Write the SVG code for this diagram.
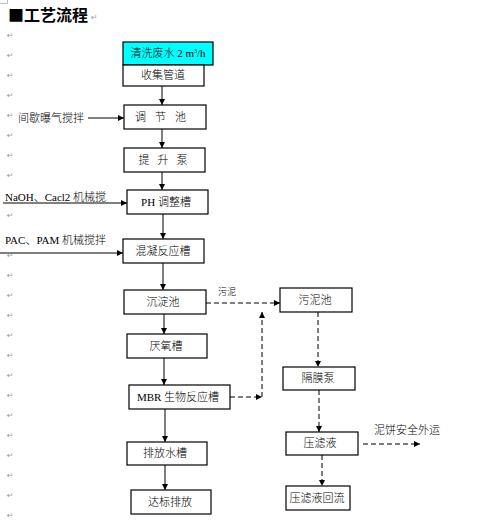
<svg xmlns="http://www.w3.org/2000/svg" width="478" height="529" viewBox="0 0 478 529">
<defs>
<marker id="ah" viewBox="0 0 10 10" refX="10" refY="5" markerWidth="6" markerHeight="6" markerUnits="userSpaceOnUse" orient="auto"><path d="M0,0 L10,5 L0,10 z" fill="#000"/></marker>
</defs>
<style>
.t{font-family:"Liberation Serif","Noto Sans CJK SC",serif;font-size:11px;font-weight:300;fill:#000}
.bx{fill:#fff;stroke:#000;stroke-width:1.2}
.pm{font-family:"DejaVu Sans",sans-serif;font-size:8px;fill:#9a9a9a}
.c{stroke:#000;stroke-width:1;fill:none;marker-end:url(#ah)}
.da{stroke:#000;stroke-width:1;fill:none;stroke-dasharray:5,3;marker-end:url(#ah)}
</style>
<rect width="478" height="529" fill="#fff"/>
<path d="M0,3.5 H7.5 V0" stroke="#bbb" stroke-width="1" fill="none"/>
<text x="8" y="21" font-family="'Noto Sans CJK SC',sans-serif" font-size="16" font-weight="bold" fill="#000">■工艺流程</text>
<text class="pm" x="91" y="20">↵</text>
<g id="marks">
<text class="pm" x="7" y="38">↵</text><text class="pm" x="7" y="58">↵</text><text class="pm" x="7" y="78">↵</text><text class="pm" x="7" y="98">↵</text><text class="pm" x="7" y="118">↵</text><text class="pm" x="7" y="138">↵</text><text class="pm" x="7" y="158">↵</text><text class="pm" x="7" y="178">↵</text><text class="pm" x="7" y="218">↵</text><text class="pm" x="7" y="258">↵</text><text class="pm" x="7" y="278">↵</text><text class="pm" x="7" y="298">↵</text><text class="pm" x="7" y="318">↵</text><text class="pm" x="7" y="338">↵</text><text class="pm" x="7" y="358">↵</text><text class="pm" x="7" y="378">↵</text><text class="pm" x="7" y="398">↵</text><text class="pm" x="7" y="418">↵</text><text class="pm" x="7" y="438">↵</text><text class="pm" x="7" y="458">↵</text><text class="pm" x="7" y="478">↵</text><text class="pm" x="7" y="498">↵</text><text class="pm" x="7" y="518">↵</text>
</g>
<g id="connectors">
<line class="c" x1="162" y1="86" x2="162" y2="105"/>
<line class="c" x1="88" y1="118" x2="124" y2="118"/>
<line class="c" x1="162" y1="129" x2="162" y2="148"/>
<line class="c" x1="162" y1="172" x2="162" y2="190"/>
<line class="c" x1="3" y1="203" x2="127" y2="203"/>
<line class="c" x1="163" y1="214" x2="163" y2="239"/>
<line class="c" x1="0" y1="253" x2="123" y2="253"/>
<line class="c" x1="163" y1="263" x2="163" y2="290"/>
<line class="da" x1="206" y1="303" x2="280" y2="303"/>
<line class="c" x1="164" y1="314" x2="164" y2="334"/>
<line class="c" x1="164" y1="358" x2="164" y2="385"/>
<line class="da" x1="230" y1="397" x2="262" y2="397"/>
<line class="da" x1="262" y1="397" x2="262" y2="312"/>
<line class="da" x1="318" y1="312" x2="318" y2="367"/>
<line class="da" x1="319" y1="390" x2="319" y2="432"/>
<line class="da" x1="363" y1="444" x2="420" y2="444"/>
<line class="da" x1="322" y1="455" x2="322" y2="486"/>
<line class="c" x1="165" y1="409" x2="165" y2="442"/>
<line class="c" x1="165" y1="465" x2="165" y2="490"/>
</g>
<g id="labels">
<text class="t" x="18" y="122">间歇曝气搅拌</text>
<text class="t" x="5" y="201">NaOH、Cacl2 机械搅</text>
<text class="t" x="5" y="244">PAC、PAM 机械搅拌</text>
<text class="t" x="218" y="295" style="font-size:9px">污泥</text>
<text class="t" x="374" y="434">泥饼安全外运</text>
</g>
<g id="n-feed">
<rect x="123" y="42" width="90" height="23" fill="#00ffff" stroke="#000" stroke-width="1.2"/>
<text class="t" x="168" y="57" text-anchor="middle">清洗废水 2  m<tspan style="font-size:6px" dy="-4">3</tspan><tspan dy="4">/h</tspan></text>
</g>
<g id="n-collect"><rect class="bx" x="123" y="65" width="81" height="21"/><text class="t" x="163" y="79" text-anchor="middle">收集管道</text></g>
<g id="n-adjust"><rect class="bx" x="124" y="105" width="82" height="24"/><text class="t" x="165" y="121" text-anchor="middle" style="letter-spacing:9px">调节池</text></g>
<g id="n-pump"><rect class="bx" x="124" y="148" width="81" height="24"/><text class="t" x="167" y="164" text-anchor="middle" style="letter-spacing:8px">提升泵</text></g>
<g id="n-ph"><rect class="bx" x="127" y="190" width="81" height="24"/><text class="t" x="166" y="206" text-anchor="middle">PH 调整槽</text></g>
<g id="n-coag"><rect class="bx" x="123" y="239" width="81" height="24"/><text class="t" x="163" y="255" text-anchor="middle">混凝反应槽</text></g>
<g id="n-settle"><rect class="bx" x="124" y="290" width="82" height="24"/><text class="t" x="163" y="306" text-anchor="middle">沉淀池</text></g>
<g id="n-anaer"><rect class="bx" x="127" y="334" width="80" height="24"/><text class="t" x="166" y="350" text-anchor="middle">厌氧槽</text></g>
<g id="n-mbr"><rect class="bx" x="129" y="385" width="101" height="24"/><text class="t" x="178" y="401" text-anchor="middle">MBR 生物反应槽</text></g>
<g id="n-drain"><rect class="bx" x="127" y="442" width="80" height="23"/><text class="t" x="165" y="457" text-anchor="middle">排放水槽</text></g>
<g id="n-std"><rect class="bx" x="131" y="490" width="80" height="24"/><text class="t" x="170" y="506" text-anchor="middle">达标排放</text></g>
<g id="n-sludge"><rect class="bx" x="280" y="288" width="72" height="24"/><text class="t" x="315" y="304" text-anchor="middle">污泥池</text></g>
<g id="n-diaph"><rect class="bx" x="283" y="367" width="72" height="23"/><text class="t" x="318" y="382" text-anchor="middle">隔膜泵</text></g>
<g id="n-filt"><rect class="bx" x="286" y="432" width="72" height="23"/><text class="t" x="320" y="447" text-anchor="middle">压滤液</text></g>
<g id="n-back"><rect class="bx" x="286" y="486" width="64" height="24"/><text class="t" x="317" y="502" text-anchor="middle">压滤液回流</text></g>
</svg>
